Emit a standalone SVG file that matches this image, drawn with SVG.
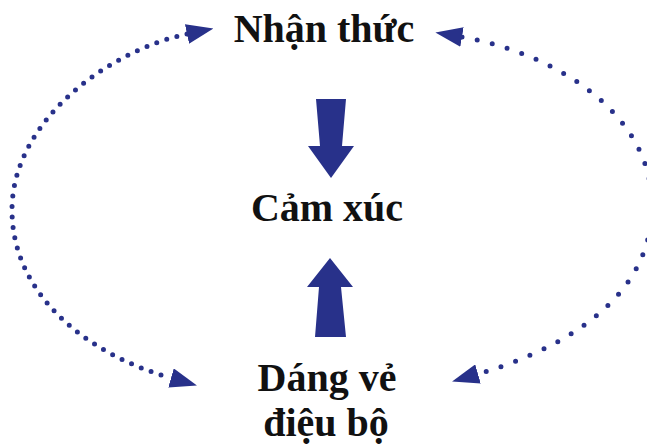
<svg xmlns="http://www.w3.org/2000/svg" width="647" height="446" viewBox="0 0 647 446">
<style>
.lbl{font-family:"Liberation Serif","Times New Roman",serif;font-weight:bold;font-size:40px;fill:#111;text-anchor:middle}
.dot{fill:none;stroke:#28318a;stroke-width:5;stroke-linecap:round}
.blk{fill:#28318a}
</style>
<defs>
<marker id="ah" markerUnits="userSpaceOnUse" viewBox="0 0 27 20" refX="0" refY="10" markerWidth="27" markerHeight="20" orient="auto-start-reverse">
<path d="M0,0 L27,10 L0,20 z" fill="#28318a"/>
</marker>
</defs>
<g id="connectors">
<path class="dot" stroke-dasharray="0 10.5" marker-start="url(#ah)" marker-end="url(#ah)" d="M187,34 C110,50 12,120 12,210 C12,290 80,352 171,378"/>
<path class="dot" stroke-dasharray="0 15.5" marker-start="url(#ah)" marker-end="url(#ah)" d="M462,37 C550,52 652,110 652,206 C652,300 560,350 478,374"/>
<polygon class="blk" points="316,99 346,99 342,146 354,146 331,178 308,146 320,146"/>
<polygon class="blk" points="330,258 353,287 341,287 346,337 315,337 319,287 307,287"/>
</g>
<g id="node-nhan-thuc"><text class="lbl" x="324" y="41.5">Nhận thức</text></g>
<g id="node-cam-xuc"><text class="lbl" x="327" y="220.5">Cảm xúc</text></g>
<g id="node-dang-ve"><text class="lbl" x="327" y="391">Dáng vẻ</text><text class="lbl" x="326" y="436">điệu bộ</text></g>
</svg>
